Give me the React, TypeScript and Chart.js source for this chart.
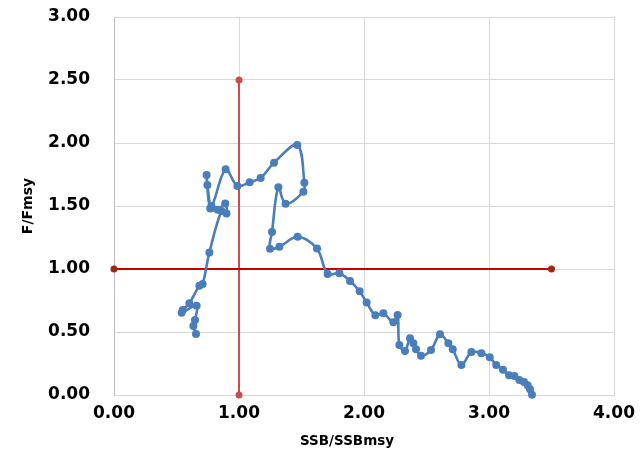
import React, { useEffect, useRef } from "react";
import { Chart, registerables } from "chart.js";

Chart.register(...registerables);

const ssbRatio = [
  3.344, 3.328, 3.309, 3.28, 3.243, 3.203, 3.16, 3.112, 3.058, 3.006,
  2.939, 2.859, 2.779, 2.71, 2.675, 2.608, 2.536, 2.456, 2.416, 2.395,
  2.368, 2.328, 2.283, 2.269, 2.235, 2.155, 2.091, 2.021, 1.965, 1.888,
  1.803, 1.709, 1.624, 1.469, 1.323, 1.248, 1.264, 1.315, 1.373, 1.515,
  1.523, 1.466, 1.28, 1.173, 1.085, 0.987, 0.893, 0.78, 0.747, 0.741,
  0.77, 0.83, 0.89, 0.9, 0.86, 0.763, 0.709, 0.683, 0.603, 0.55,
  0.541, 0.661, 0.648, 0.635, 0.656,
];
const fRatio = [
  0.002, 0.045, 0.077, 0.103, 0.119, 0.151, 0.156, 0.201, 0.238, 0.299,
  0.331, 0.341, 0.238, 0.363, 0.41, 0.482, 0.357, 0.312, 0.363, 0.41,
  0.45, 0.349, 0.397, 0.635, 0.577, 0.648, 0.632, 0.735, 0.823, 0.905,
  0.966, 0.96, 1.162, 1.256, 1.177, 1.161, 1.294, 1.648, 1.518, 1.614,
  1.685, 1.984, 1.844, 1.722, 1.688, 1.659, 1.791, 1.5, 1.667, 1.746,
  1.48, 1.47, 1.52, 1.44, 1.46, 1.13, 0.881, 0.868, 0.728, 0.675,
  0.653, 0.709, 0.595, 0.548, 0.484,
];

const fLimitX = [0, 3.5];
const fLimitY = [1, 1];
const bLimitX = [1, 1];
const bLimitY = [0, 2.5];

const xTicks = [0, 1, 2, 3, 4];
const yTicks = [0, 0.5, 1, 1.5, 2, 2.5, 3];

const xTitle = "SSB/SSBmsy";
const yTitle = "F/Fmsy";

export default function App() {
  const ref = useRef<HTMLCanvasElement | null>(null);

  useEffect(() => {
    if (!ref.current) return;
    const family = "'DejaVu Sans', sans-serif";
    const tickFont = { family, size: 17, weight: "bold" as const };
    const titleFont = { family, size: 13.5, weight: "bold" as const };

    const xTitlePlugin = {
      id: "xTitleOffset",
      afterDraw(chart: any) {
        const { ctx, chartArea } = chart;
        ctx.save();
        ctx.font = `bold 13.5px ${family}`;
        ctx.fillStyle = "#000";
        ctx.textAlign = "center";
        ctx.textBaseline = "middle";
        const cx = (chartArea.left + chartArea.right) / 2 - 17;
        ctx.fillText(xTitle, cx, chartArea.bottom + 46);
        ctx.restore();
      },
    };

    const chart = new Chart(ref.current, {
      type: "scatter",
      data: {
        datasets: [
          {
            data: ssbRatio.map((x, i) => ({ x, y: fRatio[i] })),
            showLine: true,
            borderColor: "#4A7EBB",
            backgroundColor: "#4A7EBB",
            borderWidth: 2.6,
            pointRadius: 4,
            pointBorderWidth: 0,
            tension: 0.35,
            clip: false as any,
          },
          {
            data: fLimitX.map((x, i) => ({ x, y: fLimitY[i] })),
            showLine: true,
            borderColor: "#C80000",
            backgroundColor: "#9B2A10",
            borderWidth: 2,
            pointRadius: 3.5,
            pointBorderWidth: 0,
            clip: false as any,
          },
          {
            data: bLimitX.map((x, i) => ({ x, y: bLimitY[i] })),
            showLine: true,
            borderColor: "#CF4A4A",
            backgroundColor: "#CF4A4A",
            borderWidth: 2,
            pointRadius: 3.5,
            pointBorderWidth: 0,
            clip: false as any,
          },
        ],
      },
      options: {
        animation: false,
        responsive: false,
        maintainAspectRatio: false,
        layout: { autoPadding: false, padding: { left: 0, right: 26, top: 17, bottom: 0 } },
        plugins: { legend: { display: false }, tooltip: { enabled: false } },
        scales: {
          x: {
            type: "linear",
            min: 0,
            max: 4,
            afterBuildTicks: (s: any) => {
              s.ticks = xTicks.map((v) => ({ value: v }));
            },
            afterFit: (s: any) => {
              s.height = 81;
            },
            ticks: {
              font: tickFont,
              color: "#000",
              padding: 0,
              maxRotation: 0,
              callback: (v: any) => Number(v).toFixed(2),
            },
            grid: { color: "#D9D9D9", lineWidth: 1, drawTicks: true, tickLength: 8, tickColor: "rgba(0,0,0,0)" },
            border: { display: true, color: "#D9D9D9" },
            title: { display: false, text: xTitle },
          },
          y: {
            type: "linear",
            min: 0,
            max: 3,
            afterBuildTicks: (s: any) => {
              s.ticks = yTicks.map((v) => ({ value: v }));
            },
            afterFit: (s: any) => {
              s.width = 114;
            },
            ticks: {
              font: tickFont,
              color: "#000",
              padding: 0,
              callback: (v: any) => Number(v).toFixed(2),
            },
            grid: { color: "#D9D9D9", lineWidth: 1, drawTicks: true, tickLength: 24, tickColor: "rgba(0,0,0,0)" },
            border: { display: true, color: "#BFBFBF" },
            title: {
              display: true,
              text: yTitle,
              font: { family, size: 14, weight: "bold" as const },
              color: "#000",
              padding: { top: 20, bottom: 0 },
            },
          },
        },
      },
      plugins: [xTitlePlugin],
    });
    return () => chart.destroy();
  }, []);

  return (
    <div style={{ position: "absolute", left: 0, top: 0, width: 640, height: 476, background: "#fff" }}>
      <canvas ref={ref} width={640} height={476} style={{ width: 640, height: 476, display: "block" }} />
    </div>
  );
}
